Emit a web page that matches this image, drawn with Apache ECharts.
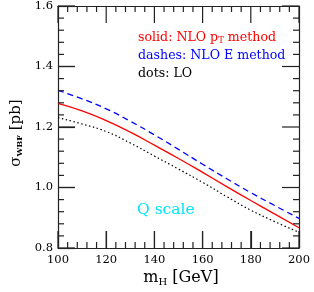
<!DOCTYPE html>
<html><head><meta charset="utf-8">
<script src="https://cdn.jsdelivr.net/npm/echarts@6/dist/echarts.min.js"></script>
<style>html,body{margin:0;padding:0;background:#fff}#c{width:314px;height:292px}</style>
</head><body><div id="c"></div>
<script>
var mH = [100,110,120,130,140,150,160,170,180,190,200];
var nloPt = [1.278,1.253,1.221,1.183,1.140,1.096,1.050,1.003,0.957,0.912,0.867];
var nloE  = [1.321,1.293,1.260,1.219,1.174,1.126,1.077,1.029,0.983,0.940,0.898];
var lo    = [1.231,1.210,1.185,1.147,1.104,1.061,1.017,0.970,0.925,0.887,0.852];
var xTicks = [100,120,140,160,180,200];
var yTicks = [0.8,1.0,1.2,1.4,1.6];

function pairs(ys){ return mH.map(function(x,i){return [x,ys[i]];}); }
var F = 'DejaVu Serif';
var XMIN=100, XMAX=200, YMIN=0.8, YMAX=1.6;
var TC='#222', TW=1.2, LMAJ=17, LMIN=6;

// tick mark positions (5 minor steps per labelled interval), drawn as rect symbols on the axes
var xBottom=[], xTop=[], yLeft=[], yRight=[];
for (var i=0;i<=25;i++){
  var v = XMIN + i*4, L = (i%5===0)?LMAJ:LMIN;
  xBottom.push({value:[v,YMIN], symbolSize:[TW,L], symbolOffset:[0,-L/2]});
  xTop.push({value:[v,YMAX], symbolSize:[TW,L], symbolOffset:[0,L/2]});
}
for (var j=0;j<=20;j++){
  var w = YMIN + j*0.04, L2 = (j%5===0)?LMAJ:LMIN;
  yLeft.push({value:[XMIN,w], symbolSize:[L2,TW], symbolOffset:[L2/2,0]});
  yRight.push({value:[XMAX,w], symbolSize:[L2,TW], symbolOffset:[-L2/2,0]});
}
function tickSeries(d){
  return {type:'scatter', data:d, symbol:'rect', clip:false, silent:true, z:5,
    itemStyle:{color:TC, opacity:1}, emphasis:{disabled:true}};
}

var chart = echarts.init(document.getElementById('c'), null, {renderer:'canvas'});
chart.setOption({
  animation:false,
  grid:{left:58, right:15, top:6, bottom:44},
  xAxis:[{type:'value', min:XMIN, max:XMAX, interval:20,
     axisLine:{show:true, onZero:false, lineStyle:{color:TC, width:TW}},
     axisTick:{show:true, inside:true, length:LMAJ, lineStyle:{color:TC, width:TW}},
     splitLine:{show:false},
     axisLabel:{show:true, fontFamily:F, fontSize:11.5, color:'#000', margin:6}},
     {type:'value', min:XMIN, max:XMAX, interval:20, position:'top',
     axisLine:{show:true, onZero:false, lineStyle:{color:TC, width:TW}},
     axisTick:{show:false}, splitLine:{show:false}, axisLabel:{show:false}}],
  yAxis:[{type:'value', min:YMIN, max:YMAX, interval:0.2,
     axisLine:{show:true, onZero:false, lineStyle:{color:TC, width:TW}},
     axisTick:{show:true, inside:true, length:LMAJ, lineStyle:{color:TC, width:TW}},
     splitLine:{show:false},
     axisLabel:{show:true, fontFamily:F, fontSize:11.5, color:'#000', margin:5,
       formatter:function(v){return v.toFixed(1);}}},
     {type:'value', min:YMIN, max:YMAX, interval:0.2, position:'right',
     axisLine:{show:true, onZero:false, lineStyle:{color:TC, width:TW}},
     axisTick:{show:false}, splitLine:{show:false}, axisLabel:{show:false}}],
  series:[
    tickSeries(xBottom), tickSeries(xTop), tickSeries(yLeft), tickSeries(yRight),
    {type:'line', data:pairs(lo), smooth:true, symbol:'none', xAxisIndex:0, yAxisIndex:0,
     lineStyle:{color:'#000', width:1.2, type:[1.5,2.5]}},
    {type:'line', data:pairs(nloE), smooth:true, symbol:'none', xAxisIndex:0, yAxisIndex:0,
     lineStyle:{color:'#0000ff', width:1.3, type:[6,4]}},
    {type:'line', data:pairs(nloPt), smooth:true, symbol:'none', xAxisIndex:0, yAxisIndex:0,
     lineStyle:{color:'#ff0000', width:1.3}}
  ],
  graphic:[
    {type:'text', left:138, top:31, style:{text:'solid: NLO p{s|T} method', fill:'#ff0000', font:'12.6px "DejaVu Serif"',
      rich:{s:{fontSize:8.5, fill:'#ff0000', fontFamily:F, padding:[6,0,0,0]}}}},
    {type:'text', left:138, top:49, style:{text:'dashes: NLO E method', fill:'#0000ff', font:'12.6px "DejaVu Serif"'}},
    {type:'text', left:138, top:67, style:{text:'dots: LO', fill:'#000', font:'12.6px "DejaVu Serif"'}},
    {type:'text', left:137, top:202, style:{text:'Q scale', fill:'#00e5ff', font:'15.5px "DejaVu Serif"'}},
    {type:'text', x:181, y:278, style:{text:'m{s|H} [GeV]', fill:'#000', font:'16px "DejaVu Serif"', align:'center', verticalAlign:'middle',
      rich:{s:{fontSize:10, fontFamily:F, fill:'#000', padding:[9,0,0,0]}}}},
    {type:'text', x:16, y:133, rotation:Math.PI/2, style:{text:'σ{s|WBF} [pb]', fill:'#000', font:'15px "DejaVu Serif"', align:'center', verticalAlign:'middle',
      rich:{s:{fontSize:8, fontFamily:F, fontWeight:'bold', fill:'#000', padding:[8,0,0,0]}}}}
  ]
});
</script></body></html>
